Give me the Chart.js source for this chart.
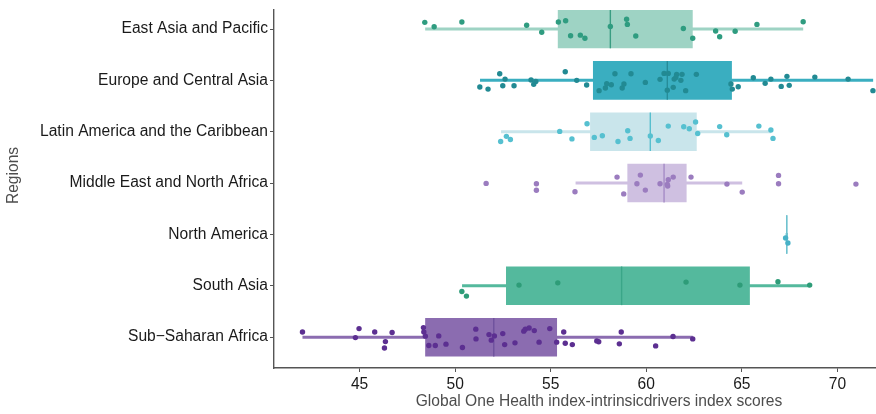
<!DOCTYPE html>
<html>
<head>
<meta charset="utf-8">
<script src="https://cdn.jsdelivr.net/npm/chart.js@4.4.1/dist/chart.umd.min.js"></script>
<style>
  html, body { margin: 0; padding: 0; background: #fff; }
  #wrap { width: 876px; height: 414px; }
</style>
</head>
<body>
<div id="wrap"><canvas id="c"></canvas></div>
<script>
// Regions, top to bottom
const regions = [
  'East Asia and Pacific',
  'Europe and Central Asia',
  'Latin America and the Caribbean',
  'Middle East and North Africa',
  'North America',
  'South Asia',
  'Sub\u2212Saharan Africa'
];

// Box-plot summaries per region
const q1          = [55.37, 57.21, 57.06, 59.01, 67.32, 52.66, 48.43];
const medians     = [58.12, 61.10, 60.21, 60.93, 67.35, 58.71, 52.02];
const q3          = [62.43, 64.48, 62.64, 62.11, 67.38, 65.42, 55.33];
const whiskerLow  = [48.43, 51.30, 52.40, 56.30, 67.29, 50.36, 42.01];
const whiskerHigh = [68.21, 71.87, 66.52, 65.02, 67.41, 68.56, 62.43];

const xTicks = [45, 50, 55, 60, 65, 70];

// Country scores and their vertical jitter within each row
const eapScores = [48.41, 48.90, 50.35, 53.74, 54.53, 55.40, 55.78, 56.04, 56.55, 56.79, 58.12, 58.97, 59.01, 59.45, 61.94, 62.43, 63.63, 63.84, 64.65, 65.79, 68.21];
const eapJitter = [-0.13, -0.045, -0.136, -0.072, 0.064, -0.136, -0.16, 0.13, 0.12, 0.18, -0.05, -0.19, -0.09, 0.136, -0.01, 0.18, 0.04, 0.15, 0.045, -0.09, -0.14];

const ecaScores = [51.29, 51.72, 52.33, 52.49, 52.61, 53.08, 53.97, 54.11, 54.22, 55.76, 56.36, 56.88, 57.53, 57.86, 57.93, 58.17, 58.36, 58.74, 58.83, 59.20, 59.95, 60.72, 60.93, 61.15, 61.10, 61.41, 61.46, 61.59, 61.55, 61.81, 61.87, 62.06, 62.62, 64.43, 64.50, 64.81, 65.60, 66.22, 66.52, 67.06, 67.36, 67.48, 68.82, 70.56, 71.86];
const ecaJitter = [0.13, 0.17, -0.13, 0.105, -0.025, 0.105, -0.006, 0.078, 0.02, -0.167, 0, 0.09, 0.2, 0.15, 0.066, 0.086, -0.13, 0.15, 0.07, -0.13, 0.04, -0.02, -0.136, -0.136, 0.19, 0.136, -0.025, -0.117, -0.058, 0, -0.117, 0.2, -0.117, 0.07, 0.17, 0.125, -0.05, 0.058, -0.025, 0.117, -0.078, 0.097, -0.064, -0.025, 0.2];

const lacScores = [52.38, 52.68, 52.89, 55.47, 56.11, 56.90, 57.28, 57.70, 58.52, 59.03, 59.15, 60.21, 60.63, 61.15, 61.96, 62.25, 62.58, 62.69, 63.84, 64.21, 65.89, 66.52, 66.63];
const lacJitter = [0.19, 0.09, 0.15, -0.006, 0.14, -0.156, 0.11, 0.078, 0.19, -0.02, 0.13, 0.084, 0.17, -0.11, -0.097, -0.058, -0.19, 0.033, -0.1, 0.058, -0.11, -0.033, 0.13];

const menaScores = [51.62, 54.25, 54.25, 56.27, 58.47, 58.82, 59.51, 59.69, 59.95, 60.72, 61.12, 61.15, 61.10, 61.41, 62.34, 64.22, 65.02, 66.92, 66.92, 70.97];
const menaJitter = [0.006, 0.014, 0.14, 0.17, -0.117, 0.21, 0.014, -0.156, 0.136, 0.014, 0.058, -0.064, 0.025, -0.117, -0.117, 0.02, 0.175, -0.15, 0.014, 0.02];

const naScores = [67.29, 67.41];
const naJitter = [0.07, 0.167];

const saScores = [50.35, 50.59, 53.34, 55.37, 62.08, 64.90, 66.89, 68.55];
const saJitter = [0.11, 0.2, -0.014, -0.058, -0.072, -0.014, -0.078, -0.014];

const ssaScores = [42.01, 44.97, 44.78, 45.79, 46.35, 46.30, 46.70, 48.34, 48.36, 48.44, 48.62, 48.96, 49.14, 49.52, 50.38, 51.08, 51.09, 51.77, 51.89, 52.05, 52.49, 52.59, 53.13, 53.59, 53.67, 53.87, 54.14, 54.39, 54.95, 55.31, 55.68, 55.76, 56.13, 57.41, 57.51, 58.59, 58.69, 60.49, 61.40, 62.43];
const ssaJitter = [-0.10, -0.167, 0.008, -0.1, 0.086, 0.21, -0.09, -0.187, -0.1, -0.02, 0.163, 0.163, -0.025, 0.136, 0.2, -0.156, 0.033, -0.05, 0.058, -0.025, -0.07, 0.144, 0.11, -0.117, -0.156, -0.18, -0.128, 0.097, -0.167, 0.097, -0.1, 0.117, 0.144, 0.072, 0.09, 0.13, -0.1, 0.17, -0.012, 0.033];

const scoreLists  = [eapScores, ecaScores, lacScores, menaScores, naScores, saScores, ssaScores];
const jitterLists = [eapJitter, ecaJitter, lacJitter, menaJitter, naJitter, saJitter, ssaJitter];

// Palette per region
const boxColors    = ['#9ed3c4', '#3aaec0', '#c9e5eb', '#cfc0e1', '#6fc2cf', '#54b99d', '#8b6cb0'];
const medianColors = ['#3a9d82', '#268c99', '#57bfce', '#a58bc6', '#6fc2cf', '#3aa688', '#6f529d'];
const pointColors  = ['#2f9c80', '#228a93', '#56c0d0', '#9b7cbf', '#47b1c7', '#2e9c78', '#5c2f91'];

const FONT = "'Liberation Sans', Arial, Helvetica, sans-serif";
const TITLE_COLOR = '#4d4d4d';
const X_TITLE = 'Global One Health index-intrinsicdrivers index scores';
const Y_TITLE = 'Regions';

const datasets = [];

// Whiskers (drawn first, underneath)
regions.forEach((r, i) => {
  datasets.push({
    type: 'line',
    data: [{ x: whiskerLow[i], y: i + 1 }, { x: whiskerHigh[i], y: i + 1 }],
    borderColor: boxColors[i],
    borderWidth: 3,
    borderCapStyle: 'butt',
    pointRadius: 0,
    order: 30
  });
});

// Boxes (interquartile range as floating bars)
datasets.push({
  type: 'bar',
  indexAxis: 'y',
  data: regions.map((r, i) => ({ y: i + 1, x: [q1[i], q3[i]] })),
  backgroundColor: boxColors,
  borderWidth: 0,
  barPercentage: 0.75,
  categoryPercentage: 1,
  order: 20
});

// Median ticks
datasets.push({
  type: 'scatter',
  data: regions.map((r, i) => ({ x: medians[i], y: i + 1 })),
  pointStyle: 'line',
  rotation: 90,
  pointRadius: 19.3,
  borderWidth: 1.4,
  borderColor: medianColors,
  backgroundColor: medianColors,
  order: 10
});

// Individual country points
regions.forEach((r, i) => {
  datasets.push({
    type: 'scatter',
    data: scoreLists[i].map((v, k) => ({ x: v, y: i + 1 + jitterLists[i][k] })),
    pointRadius: 2.7,
    pointBorderWidth: 0,
    backgroundColor: pointColors[i],
    borderColor: pointColors[i],
    order: 0
  });
});

// Axis titles
const axisTitles = {
  id: 'axisTitles',
  afterDraw(chart) {
    const { ctx, chartArea } = chart;
    ctx.save();
    ctx.font = `15.6px ${FONT}`;
    ctx.fillStyle = TITLE_COLOR;
    ctx.textAlign = 'center';
    ctx.textBaseline = 'middle';
    ctx.fillText(X_TITLE, (chartArea.left + chartArea.right) / 2 + 24, 402);
    ctx.translate(14, (chartArea.top + chartArea.bottom) / 2 - 13.5);
    ctx.rotate(-Math.PI / 2);
    ctx.fillText(Y_TITLE, 0, 0);
    ctx.restore();
  }
};

const noEdgePadding = s => {
  s.paddingTop = 0; s.paddingBottom = 0; s.paddingLeft = 0; s.paddingRight = 0;
};

new Chart(document.getElementById('c'), {
  type: 'bar',
  data: { datasets },
  plugins: [axisTitles],
  options: {
    responsive: true,
    maintainAspectRatio: false,
    animation: false,
    events: [],
    layout: { autoPadding: false, padding: { top: 10, right: 0, bottom: 0, left: 0 } },
    plugins: { legend: { display: false }, tooltip: { enabled: false } },
    scales: {
      x: {
        type: 'linear',
        offset: false,
        min: 40.52,
        max: 72.02,
        afterBuildTicks: s => { s.ticks = xTicks.map(v => ({ value: v })); },
        afterFit: s => { s.height = 46; noEdgePadding(s); },
        grid: { offset: false, drawOnChartArea: false, drawTicks: true, tickLength: 4, color: '#555', lineWidth: 1 },
        border: { display: true, color: '#555', width: 1.4 },
        ticks: { color: '#1a1a1a', font: { family: FONT, size: 15.6 }, padding: 3, maxRotation: 0, autoSkip: false },
        title: { display: false }
      },
      y: {
        type: 'linear',
        offset: false,
        reverse: true,
        min: 0.63,
        max: 7.6,
        afterBuildTicks: s => { s.ticks = regions.map((r, i) => ({ value: i + 1 })); },
        afterFit: s => { s.width = 274; noEdgePadding(s); },
        grid: { offset: false, drawOnChartArea: false, drawTicks: true, tickLength: 4, color: '#555', lineWidth: 1 },
        border: { display: true, color: '#555', width: 1.4 },
        ticks: {
          color: '#1a1a1a',
          font: { family: FONT, size: 15.6 },
          padding: 2,
          autoSkip: false,
          callback: v => regions[Math.round(v) - 1]
        },
        title: { display: false }
      }
    }
  }
});
</script>
</body>
</html>
